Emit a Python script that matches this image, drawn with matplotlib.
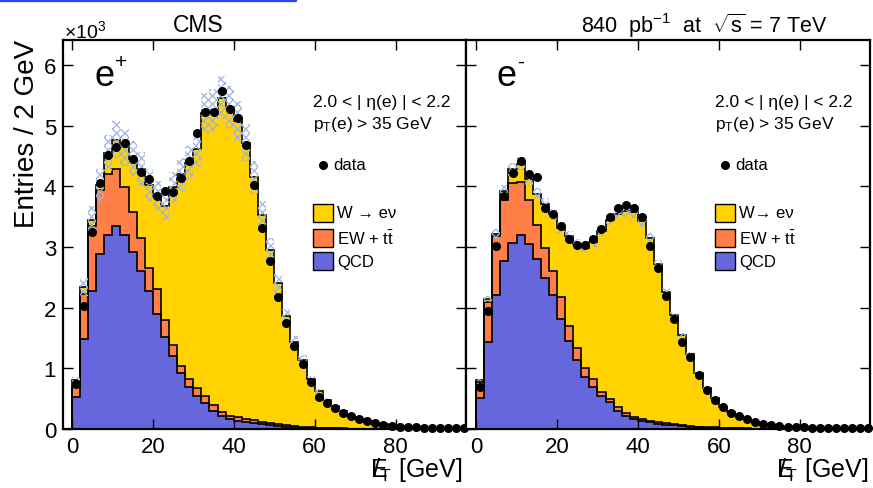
import numpy as np
import matplotlib
matplotlib.use('Agg')
import matplotlib.pyplot as plt
from matplotlib.lines import Line2D
from matplotlib.patches import Rectangle

plt.rcParams['font.family'] = ['Liberation Sans', 'DejaVu Sans']
plt.rcParams['mathtext.fontset'] = 'custom'
plt.rcParams['mathtext.rm'] = 'Liberation Sans'
plt.rcParams['mathtext.it'] = 'Liberation Sans'
plt.rcParams['mathtext.bf'] = 'Liberation Sans:bold'
plt.rcParams['hatch.linewidth'] = 0.9

# ---------------- data (values in units of 10^3 entries / 2 GeV) ----------------
bin_edges = np.arange(0, 98, 2)  # left edges of 49 bins: 0..96 GeV

# e+ panel
qcd_pos = [0.52, 1.49, 2.27, 2.89, 3.20, 3.34, 3.19, 2.92, 2.60, 2.28,
           1.90, 1.51, 1.21, 0.93, 0.69, 0.55, 0.43, 0.30, 0.22, 0.16,
           0.14, 0.12, 0.10, 0.08, 0.06, 0.05, 0.04, 0.03, 0.02, 0.02,
           0.01, 0.01, 0.01, 0.005, 0.0, 0.0, 0.0, 0.0, 0.0, 0.0,
           0.0, 0.0, 0.0, 0.0, 0.0, 0.0, 0.0, 0.0, 0.0]
ew_pos = [0.17, 0.73, 1.08, 1.05, 1.01, 0.94, 0.79, 0.65, 0.55, 0.38,
          0.41, 0.28, 0.17, 0.11, 0.13, 0.12, 0.12, 0.10, 0.06, 0.06,
          0.05, 0.05, 0.05, 0.04, 0.04, 0.03, 0.02, 0.02, 0.02, 0.01,
          0.01, 0.01, 0.005, 0.005, 0.0, 0.0, 0.0, 0.0, 0.0, 0.0,
          0.0, 0.0, 0.0, 0.0, 0.0, 0.0, 0.0, 0.0, 0.0]
w_pos = [0.11, 0.12, 0.10, 0.08, 0.34, 0.49, 0.66, 0.88, 1.13, 1.36,
         1.53, 1.89, 2.60, 3.16, 3.56, 3.95, 4.65, 4.86, 5.18, 5.08,
         4.89, 4.55, 4.00, 3.40, 2.85, 2.32, 1.80, 1.39, 1.10, 0.79,
         0.60, 0.46, 0.36, 0.28, 0.21, 0.17, 0.13, 0.10, 0.08, 0.06,
         0.05, 0.04, 0.03, 0.02, 0.02, 0.01, 0.01, 0.01, 0.01]
data_pos = [0.74, 2.02, 3.24, 4.05, 4.51, 4.64, 4.71, 4.45, 4.24, 4.12,
            3.84, 3.93, 3.90, 4.13, 4.42, 4.88, 5.22, 5.22, 5.57, 5.27,
            5.12, 4.68, 4.02, 3.31, 2.77, 2.17, 1.75, 1.36, 1.07, 0.77,
            0.52, 0.43, 0.34, 0.27, 0.21, 0.16, 0.13, 0.10, 0.07, 0.05,
            0.04, 0.03, 0.03, 0.02, 0.02, 0.01, 0.01, 0.01, 0.01]

# e- panel
qcd_neg = [0.51, 1.44, 2.20, 2.77, 3.06, 3.20, 3.05, 2.80, 2.48, 2.20,
           1.82, 1.45, 1.13, 0.85, 0.69, 0.54, 0.44, 0.29, 0.21, 0.16,
           0.13, 0.11, 0.09, 0.07, 0.06, 0.05, 0.04, 0.03, 0.02, 0.02,
           0.01, 0.01, 0.01, 0.005, 0.0, 0.0, 0.0, 0.0, 0.0, 0.0,
           0.0, 0.0, 0.0, 0.0, 0.0, 0.0, 0.0, 0.0, 0.0]
ew_neg = [0.26, 0.65, 0.98, 1.01, 1.00, 0.87, 0.72, 0.56, 0.51, 0.41,
          0.35, 0.24, 0.20, 0.15, 0.13, 0.07, 0.05, 0.07, 0.05, 0.04,
          0.04, 0.03, 0.03, 0.03, 0.02, 0.02, 0.01, 0.01, 0.01, 0.01,
          0.01, 0.01, 0.005, 0.005, 0.0, 0.0, 0.0, 0.0, 0.0, 0.0,
          0.0, 0.0, 0.0, 0.0, 0.0, 0.0, 0.0, 0.0, 0.0]
w_neg = [0.04, 0.05, 0.03, 0.15, 0.22, 0.30, 0.35, 0.52, 0.72, 0.93,
         1.15, 1.49, 1.72, 1.99, 2.26, 2.65, 2.95, 3.19, 3.33, 3.37,
         3.25, 3.01, 2.60, 2.16, 1.80, 1.48, 1.19, 0.88, 0.65, 0.48,
         0.35, 0.26, 0.20, 0.15, 0.11, 0.09, 0.07, 0.05, 0.04, 0.03,
         0.03, 0.02, 0.02, 0.01, 0.01, 0.01, 0.01, 0.01, 0.01]
data_neg = [0.69, 1.95, 3.01, 3.84, 4.22, 4.42, 4.20, 4.16, 3.64, 3.54,
            3.35, 3.13, 3.03, 3.03, 3.13, 3.30, 3.50, 3.64, 3.69, 3.64,
            3.49, 3.01, 2.65, 2.19, 1.82, 1.43, 1.18, 0.89, 0.65, 0.47,
            0.36, 0.26, 0.21, 0.16, 0.12, 0.09, 0.07, 0.05, 0.04, 0.03,
            0.03, 0.02, 0.02, 0.01, 0.01, 0.01, 0.01, 0.01, 0.01]

x_ticks = [0, 20, 40, 60, 80]
y_ticks = [0, 1, 2, 3, 4, 5, 6]
syst_frac_pos = 0.065
syst_frac_neg = 0.025

C_W = '#ffd200'
C_EW = '#ff7f47'
C_QCD = '#6767dd'
C_BAND = '#9cb4e4'

W, H = 873, 489
fig = plt.figure(figsize=(W / 100, H / 100), dpi=100)


def fx(px):
    return px / W


def fy(py):
    return 1 - py / H


def draw_panel(ax, qcd, ew, w, data, xlim, syst):
    edges = np.append(bin_edges, bin_edges[-1] + 2)
    qcd = np.array(qcd)
    cum_ew = qcd + np.array(ew)
    total = cum_ew + np.array(w)
    for vals, col in [(total, C_W), (cum_ew, C_EW), (qcd, C_QCD)]:
        ax.stairs(vals, edges, fill=True, facecolor=col, edgecolor='none', zorder=1)
        ax.stairs(vals, edges, fill=False, color='black', linewidth=1.2, zorder=2)
    lo = total * (1 - syst)
    hi = total * (1 + syst)
    ax.fill_between(edges, np.append(lo, lo[-1]), np.append(hi, hi[-1]), step='post',
                    facecolor='none', edgecolor=C_BAND, hatch='xxxx', linewidth=0, zorder=3)
    centers = bin_edges + 1
    ax.plot(centers, data, 'o', color='black', markersize=5.5, zorder=5, clip_on=False)
    ax.set_xlim(*xlim)
    ax.set_ylim(0, 6.41)
    ax.set_xticks(x_ticks)
    ax.set_yticks(y_ticks)
    ax.tick_params(direction='in', length=7, width=1.0, top=True, right=True,
                   labelsize=16, pad=5)
    for s in ax.spines.values():
        s.set_linewidth(1.6)


ax1 = fig.add_axes([fx(63), fy(430), fx(466) - fx(63), (430 - 41) / H])
ax2 = fig.add_axes([fx(466), fy(430), fx(870) - fx(466), (430 - 41) / H])
draw_panel(ax1, qcd_pos, ew_pos, w_pos, data_pos, (-2.2, 97.4), syst_frac_pos)
draw_panel(ax2, qcd_neg, ew_neg, w_neg, data_neg, (-2.5, 97.4), syst_frac_neg)
ax2.tick_params(labelleft=False)

# texts
fig.text(fx(198), fy(26), 'CMS', ha='center', va='center', fontsize=16.5)
fig.text(fx(64), fy(31), r'×10$^{3}$', ha='left', va='center', fontsize=14)
fig.text(fx(827), fy(26), r'840  pb$^{-1}$  at  $\sqrt{s}$ = 7 TeV', ha='right', va='center', fontsize=15.5)
fig.text(fx(27), fy(40), 'Entries / 2 GeV', rotation=90, ha='center', va='top', fontsize=20)

met = r'$\mathrm{E}\!\!\!\!/_{\mathrm{T}}$ [GeV]'
fig.text(fx(462), fy(470), met, ha='right', va='center', fontsize=18)
fig.text(fx(868), fy(470), met, ha='right', va='center', fontsize=18)

for dx, charge, wlab in [(0, '+', 'W → eν'), (402, '-', 'W→ eν')]:
    fig.text(fx(94 + dx), fy(76), 'e', ha='left', va='center', fontsize=26)
    fig.text(fx(115 + dx), fy(62), charge, ha='left', va='center', fontsize=15)
    fig.text(fx(313 + dx), fy(103), '2.0 < | η(e) | < 2.2', ha='left', va='center', fontsize=12.5)
    fig.text(fx(313 + dx), fy(125), r'p$_{\mathrm{T}}$(e) > 35 GeV', ha='left', va='center', fontsize=12.5)
    fig.add_artist(Line2D([fx(323 + dx)], [fy(166)], marker='o', color='black', markersize=5.5,
                          transform=fig.transFigure))
    fig.text(fx(333 + dx), fy(166), 'data', ha='left', va='center', fontsize=12)
    for yc, col, lab in [(213.5, C_W, wlab), (239, C_EW, r'EW + t$\bar{\mathrm{t}}$'), (262, C_QCD, 'QCD')]:
        fig.add_artist(Rectangle((fx(313 + dx), fy(yc + 9)), fx(20), 18 / H, facecolor=col,
                                 edgecolor='black', linewidth=1.0, transform=fig.transFigure))
        fig.text(fx(337 + dx), fy(yc), lab, ha='left', va='center', fontsize=12)

# blue selection corner at top-left
fig.add_artist(Line2D([fx(0), fx(296), fx(296)], [fy(2), fy(2), fy(-1)], color='#2a46f0',
                      linewidth=1.6, transform=fig.transFigure))

fig.savefig('out.png', dpi=100)
